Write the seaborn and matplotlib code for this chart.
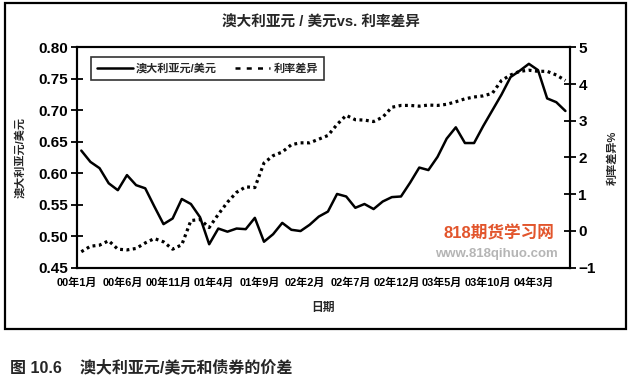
# 澳大利亚元/美元 vs. 利率差异 (monthly, 2000-01 .. 2004-06)
import numpy as np
import pandas as pd
import matplotlib
matplotlib.use("Agg")
import matplotlib.pyplot as plt
from matplotlib.lines import Line2D
from matplotlib.patches import Rectangle
import seaborn as sns

# data, one value per month starting 00年1月
aud_usd = [0.636, 0.618, 0.608, 0.584, 0.573, 0.597, 0.581, 0.576, 0.547, 0.519,
           0.528, 0.559, 0.551, 0.530, 0.487, 0.512, 0.507, 0.512, 0.511, 0.529,
           0.491, 0.503, 0.521, 0.510, 0.508, 0.518, 0.531, 0.539, 0.567, 0.563,
           0.545, 0.551, 0.543, 0.555, 0.562, 0.563, 0.585, 0.609, 0.605, 0.626,
           0.655, 0.673, 0.648, 0.648, 0.675, 0.700, 0.725, 0.753, 0.763, 0.774,
           0.764, 0.719, 0.713, 0.699]
rate_diff = [-0.57, -0.42, -0.39, -0.27, -0.50, -0.52, -0.48, -0.33, -0.21, -0.30,
             -0.50, -0.38, 0.28, 0.31, 0.09, 0.45, 0.78, 1.05, 1.20, 1.18,
             1.85, 2.05, 2.15, 2.35, 2.40, 2.40, 2.50, 2.60, 2.90, 3.15,
             3.03, 3.02, 2.98, 3.10, 3.37, 3.42, 3.42, 3.40, 3.43, 3.42,
             3.45, 3.52, 3.60, 3.65, 3.68, 3.75, 4.10, 4.25, 4.35, 4.38,
             4.35, 4.35, 4.25, 4.10]
tick_labels = ["00年1月", "00年6月", "00年11月", "01年4月", "01年9月", "02年2月",
               "02年7月", "02年12月", "03年5月", "03年10月", "04年3月"]

df = pd.DataFrame({"month": np.arange(len(aud_usd)) + 0.5,
                   "aud": aud_usd, "diff": rate_diff})

sns.set_style("white")
plt.rcParams["font.family"] = ["Liberation Sans", "Noto Sans CJK SC", "DejaVu Sans"]
plt.rcParams["font.weight"] = "bold"

fig = plt.figure(figsize=(6.31, 3.82), dpi=100)
ax = fig.add_axes([0.1216, 0.2997, 0.7817, 0.576])
ax2 = ax.twinx()

sns.lineplot(data=df, x="month", y="aud", ax=ax, color="black", lw=1.8)
sns.lineplot(data=df, x="month", y="diff", ax=ax2, color="black", lw=2.3,
             linestyle=(0, (0.9, 1.1)))

ax.set_xlim(0, 54)
ax.set_ylim(0.45, 0.80)
ax2.set_ylim(-1, 5)
ax.set_xticks(np.arange(0, 55, 5))
ax.set_xticklabels(tick_labels, fontsize=7.9, fontweight="bold")
ax.set_yticks(np.arange(0.45, 0.801, 0.05))
ax.set_yticklabels([f"{v:.2f}" for v in np.arange(0.45, 0.801, 0.05)],
                   fontsize=11, fontweight="bold")
ax2.set_yticks(range(-1, 6))
ax2.set_yticklabels(["\u22121", "0", "1", "2", "3", "4", "5"],
                    fontsize=11, fontweight="bold")

for a in (ax, ax2):
    a.tick_params(direction="inout", length=8, width=1.3, colors="black", pad=2)
    for s in a.spines.values():
        s.set_color("black")
        s.set_linewidth(1.5)
ax.tick_params(axis="x", length=8, pad=3)

ax.set_xlabel("日期", fontsize=8.5, fontweight="bold", labelpad=10)
ax.set_ylabel("澳大利亚元/美元", fontsize=8, fontweight="bold", labelpad=10)
ax2.set_ylabel("利率差异%", fontsize=8, fontweight="bold", labelpad=8)

handles = [Line2D([], [], color="black", lw=1.8),
           Line2D([], [], color="black", lw=1.8, linestyle=(0, (2, 2.5)))]
leg = ax2.legend(handles, ["澳大利亚元/美元", "利率差异"], ncol=2,
                 loc="upper left", bbox_to_anchor=(0.029, 0.957), borderaxespad=0,
                 fontsize=8, frameon=True, fancybox=False, handlelength=3.2,
                 columnspacing=1.6, borderpad=0.55, handletextpad=0.3)
leg.get_frame().set_edgecolor("black")
leg.get_frame().set_linewidth(1.2)
for t in leg.get_texts():
    t.set_fontweight("bold")

fig.text(0.508, 0.942, "澳大利亚元 / 美元vs. 利率差异", ha="center", va="center",
         fontsize=10.5, fontweight="bold")

# watermark
ax2.text(0.855, 0.155, "818期货学习网", transform=ax.transAxes, ha="center",
         va="center", fontsize=12, fontweight="bold", color="#e2552c")
ax2.text(0.85, 0.06, "www.818qihuo.com", transform=ax.transAxes, ha="center",
         va="center", fontsize=9.5, fontweight="bold", color="#b5b5b5")

# outer frame and caption
fig.patches.append(Rectangle((0.008, 0.139), 0.984, 0.853, transform=fig.transFigure,
                             fill=False, edgecolor="black", lw=1.6))
fig.text(0.016, 0.037, "图 10.6    澳大利亚元/美元和债券的价差", ha="left", va="center",
         fontsize=11.5, fontweight="bold")

fig.savefig("out.png", dpi=100)
